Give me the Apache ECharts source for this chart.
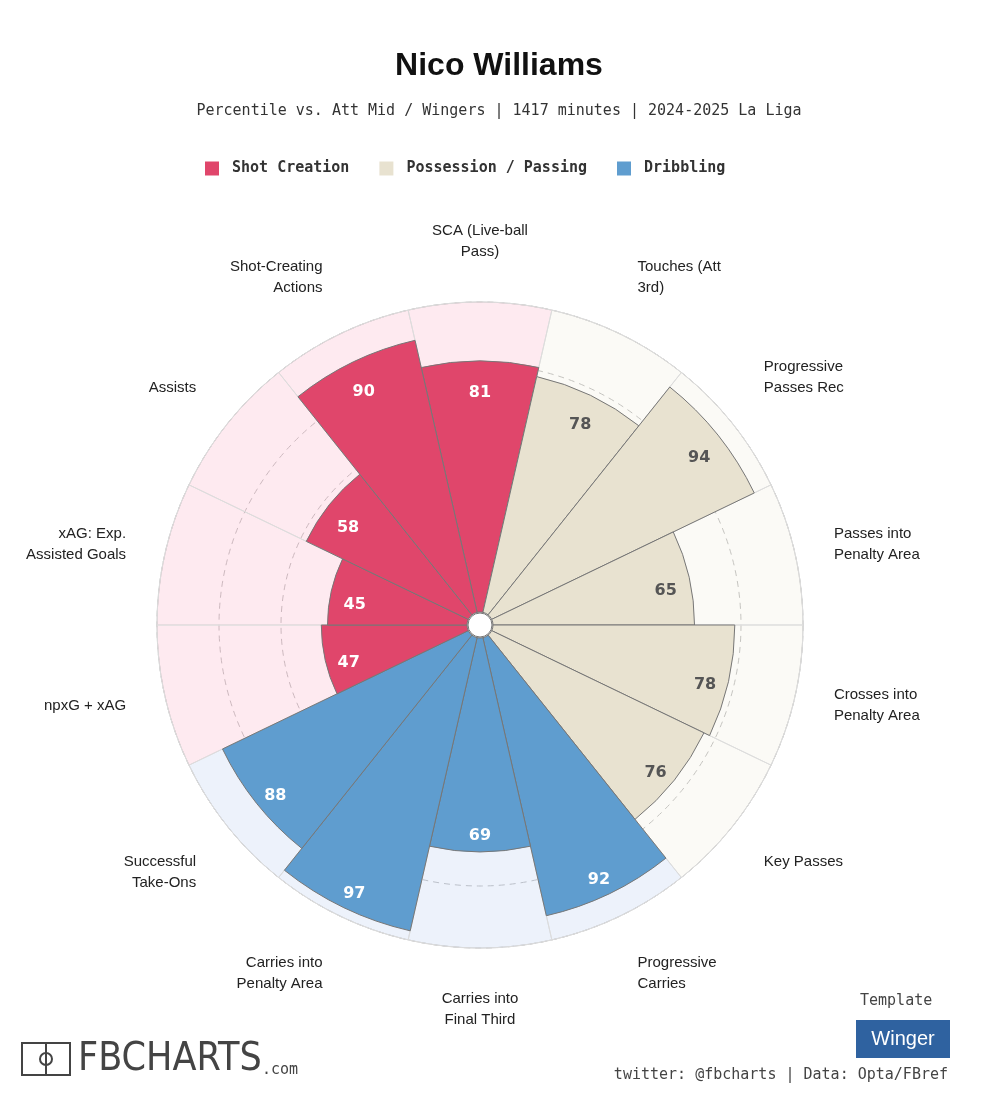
<!DOCTYPE html>
<html><head><meta charset="utf-8">
<script src="https://cdn.jsdelivr.net/npm/echarts@6/dist/echarts.min.js"></script>
<style>html,body{margin:0;background:#fff}#c{width:998px;height:1110px}</style>
</head><body><div id="c"></div>
<script>
const categories = ["SCA (Live-ball\nPass)","Touches (Att\n3rd)","Progressive\nPasses Rec","Passes into\nPenalty Area","Crosses into\nPenalty Area","Key Passes","Progressive\nCarries","Carries into\nFinal Third","Carries into\nPenalty Area","Successful\nTake-Ons","npxG + xAG","xAG: Exp.\nAssisted Goals","Assists","Shot-Creating\nActions"];
const values = [81,78,94,65,78,76,92,69,97,88,47,45,58,90];
const groups = ["S","P","P","P","P","P","D","D","D","D","S","S","S","S"];
const colors = {S:"#e0466b",P:"#e8e2d0",D:"#5f9dcf"};
const bgColors = {S:"rgba(250,180,200,0.28)",P:"rgba(235,230,215,0.22)",D:"rgba(190,210,240,0.28)"};
const labelColors = {S:"#fff",P:"#555",D:"#fff"};

const chart = echarts.init(document.getElementById('c'));
chart.setOption({
  backgroundColor:'#fff',
  animation:false,
  title:{text:'Nico Williams',left:'center',top:45,
    textStyle:{fontFamily:'Liberation Sans, Arial',fontSize:32,fontWeight:'bold',color:'#111'},
    subtext:'Percentile vs. Att Mid / Wingers | 1417 minutes | 2024-2025 La Liga',itemGap:22,
    subtextStyle:{fontFamily:'DejaVu Sans Mono',fontSize:15,color:'#333'}},
  legend:{top:156,left:200,itemWidth:14,itemHeight:14,itemGap:30,icon:'rect',
    textStyle:{fontFamily:'DejaVu Sans Mono',fontSize:15,fontWeight:'bold',color:'#333',padding:[0,0,0,8]},
    data:['Shot Creation','Possession / Passing','Dribbling']},
  polar:{center:[480,625],radius:[13,323]},
  angleAxis:{type:'category',data:categories,startAngle:90+360/28,clockwise:true,
    axisLine:{show:true,lineStyle:{color:'#ccc'}},axisTick:{show:false},splitLine:{show:false},
    axisLabel:{margin:40,fontFamily:'Liberation Sans, Arial',fontSize:15,color:'#222',lineHeight:21}},
  radiusAxis:{min:0,max:100,interval:20,axisLine:{show:false},axisTick:{show:false},axisLabel:{show:false},
    splitLine:{show:true,lineStyle:{color:'#bbb',type:[6,5],width:1}}},
  series:[
    {type:'bar',coordinateSystem:'polar',barCategoryGap:'0%',barGap:'-100%',silent:true,z:1,
     data:categories.map((c,i)=>({value:100,itemStyle:{color:bgColors[groups[i]],borderColor:'#ddd',borderWidth:1}}))},
    {type:'bar',coordinateSystem:'polar',barCategoryGap:'0%',barGap:'-100%',z:3,
     data:values.map((v,i)=>({value:v,itemStyle:{color:colors[groups[i]],borderColor:'#777',borderWidth:1},
       label:{color:labelColors[groups[i]]}})),
     label:{show:true,position:'insideEnd',rotate:0,distance:24,fontFamily:'DejaVu Sans',fontSize:16,fontWeight:'bold',formatter:'{c}'}},
    {type:'bar',coordinateSystem:'polar',name:'Shot Creation',data:[],itemStyle:{color:colors.S}},
    {type:'bar',coordinateSystem:'polar',name:'Possession / Passing',data:[],itemStyle:{color:colors.P}},
    {type:'bar',coordinateSystem:'polar',name:'Dribbling',data:[],itemStyle:{color:colors.D}}
  ],
  graphic:[
    {type:'circle',shape:{cx:480,cy:625,r:12},style:{fill:'#fff',stroke:'#777',lineWidth:1},z:100},
    {type:'rect',shape:{x:22,y:1043,width:48,height:32},style:{fill:'none',stroke:'#444',lineWidth:2},z:100},
    {type:'line',shape:{x1:46,y1:1043,x2:46,y2:1075},style:{stroke:'#444',lineWidth:2},z:100},
    {type:'circle',shape:{cx:46,cy:1059,r:6},style:{fill:'none',stroke:'#444',lineWidth:2},z:100},
    {type:'text',left:78,top:1040,style:{text:'FBCHARTS',font:'39px "DejaVu Sans Condensed", sans-serif',fill:'#444'},z:100},
    {type:'text',left:262,top:1063,style:{text:'.com',font:'15px "DejaVu Sans Mono"',fill:'#444'},z:100},
    {type:'text',left:860,top:994,style:{text:'Template',font:'15px "DejaVu Sans Mono"',fill:'#444'},z:100},
    {type:'rect',shape:{x:856,y:1020,width:94,height:38},style:{fill:'#2f62a0'},z:100},
    {type:'text',x:903,y:1039,style:{text:'Winger',font:'20px "Liberation Sans", Arial',fill:'#fff',align:'center',verticalAlign:'middle'},z:101},
    {type:'text',right:50,top:1068,style:{text:'twitter: @fbcharts | Data: Opta/FBref',font:'15px "DejaVu Sans Mono"',fill:'#444'},z:100}
  ]
});
</script></body></html>
